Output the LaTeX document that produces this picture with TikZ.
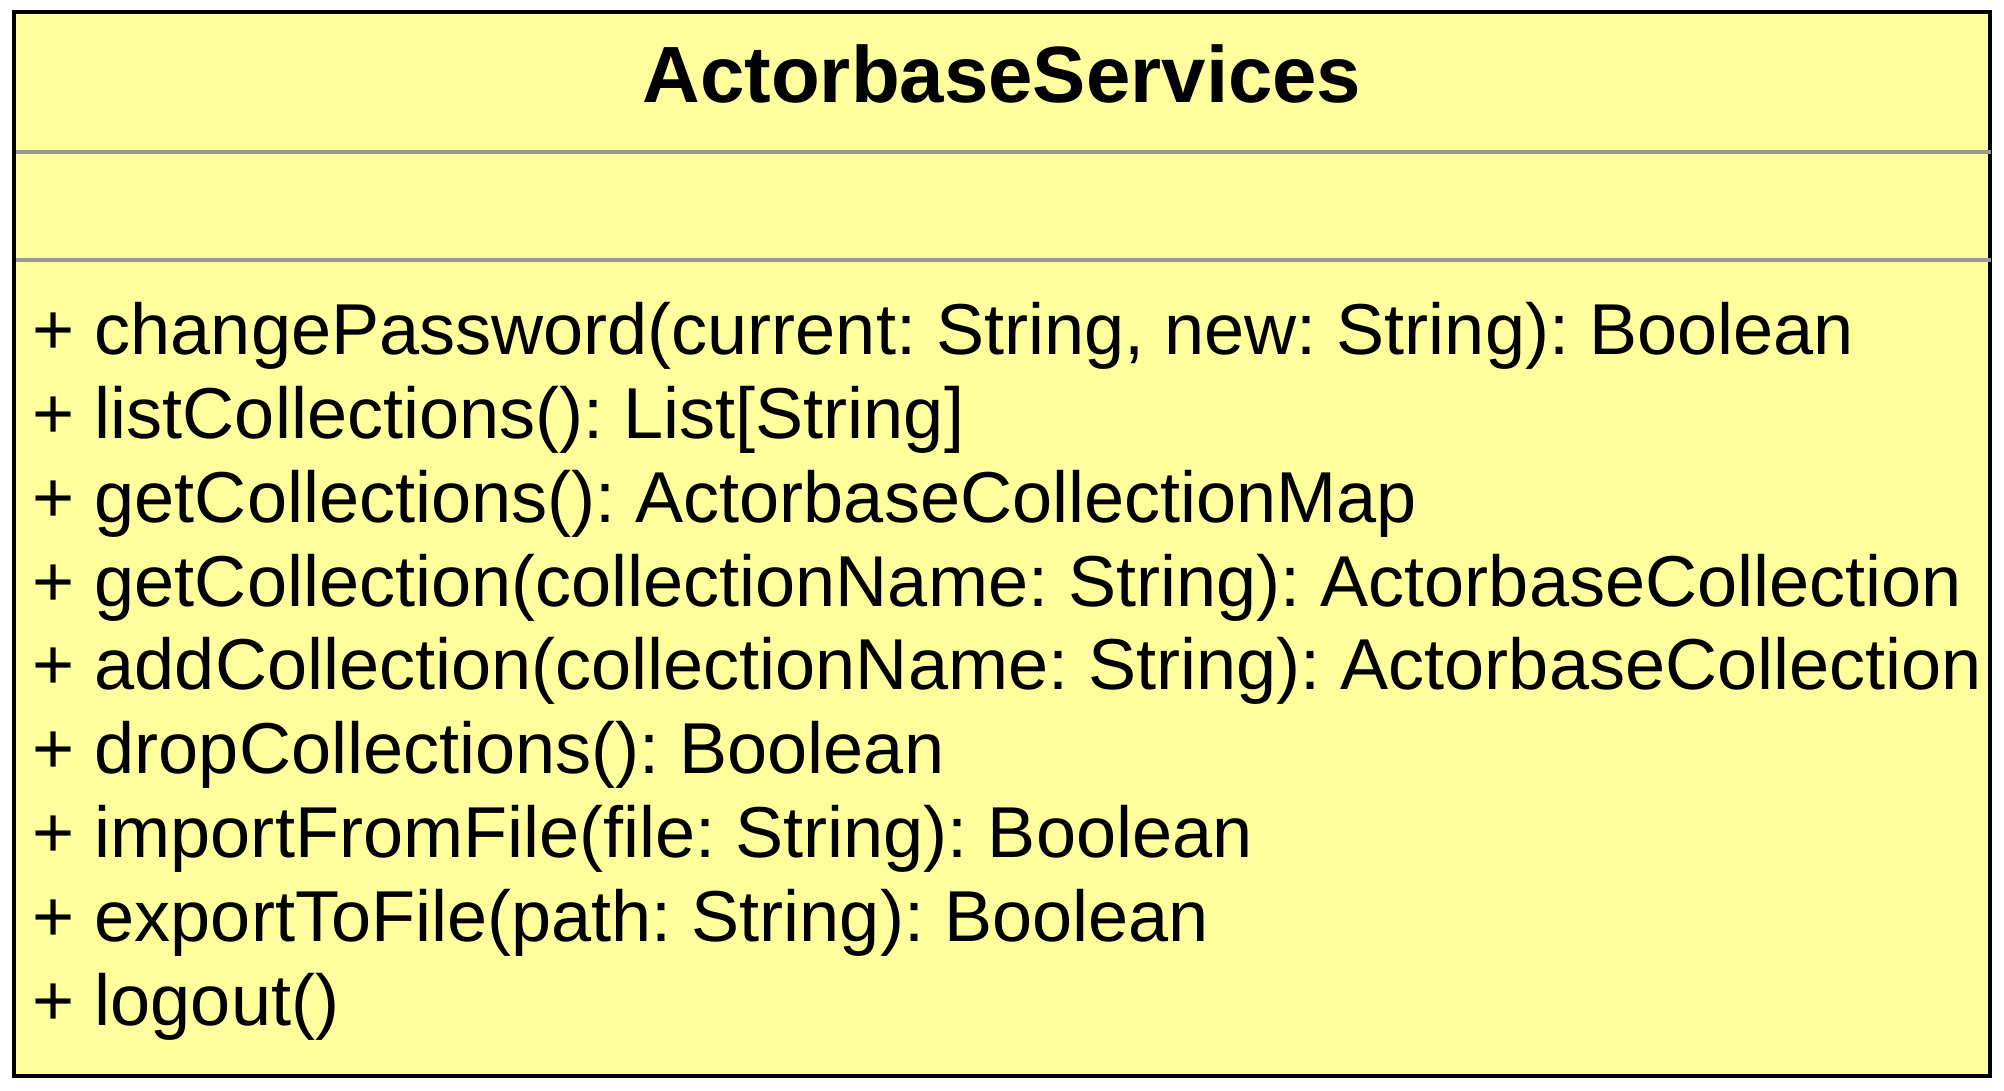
\documentclass[tikz,border=0pt]{standalone}
\usepackage{fontspec}
\setmainfont{Liberation Sans}
\frenchspacing
\begin{document}
\begin{tikzpicture}[x=0.01cm, y=-0.01cm]
    \def\lineGap{83.8}

    \definecolor{borderColour}{HTML}{000000}
    \definecolor{fillColour}{HTML}{FEFE9C}
    \definecolor{sepColour}{HTML}{999999}

    \useasboundingbox (0,0) rectangle (2004,1090);

    % Draw class box
    \filldraw[fill=fillColour, draw=borderColour, line width=0.045cm] (14,12) rectangle (1990,1076);

    % Draw compartment separators
    \draw[sepColour, line width=0.04cm] (16,152) -- (1991,152);
    \draw[sepColour, line width=0.04cm] (16,260) -- (1991,260);

    % Class name
    \node[anchor=base, inner sep=0pt, font=\fontsize{22.7}{27}\selectfont\bfseries] (className) at (1002,102) {ActorbaseServices};

    % Operations
    \foreach \op [count=\i from 0] in {
        {+ changePassword(current: String, new: String): Boolean},
        {+ listCollections(): List[String]},
        {+ getCollections(): ActorbaseCollectionMap},
        {+ getCollection(collectionName: String): ActorbaseCollection},
        {+ addCollection(collectionName: String): ActorbaseCollection},
        {+ dropCollections(): Boolean},
        {+ importFromFile(file: String): Boolean},
        {+ exportToFile(path: String): Boolean},
        {+ logout()}}
        \node[anchor=base west, inner sep=0pt, font=\fontsize{20.5}{24}\selectfont] (op\i) at (32,354.6+\i*\lineGap) {\op};

\end{tikzpicture}
\end{document}
